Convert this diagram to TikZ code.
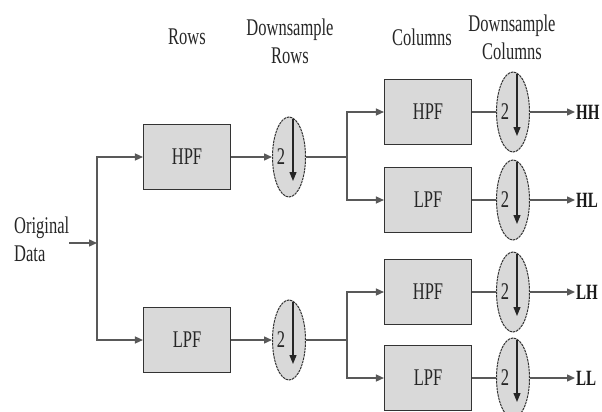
\documentclass[tikz,border=0pt]{standalone}
\usepackage{fontspec}
\setmainfont{Liberation Serif}
\usepackage{graphicx}
\usetikzlibrary{arrows.meta, shapes.geometric, positioning}

% tall lettering, as in the reference
\newcommand{\tall}[1]{\scalebox{1}[1.45]{#1}}

\begin{document}
\begin{tikzpicture}[x=1pt, y=-1pt,
    line/.style={draw=black!65, line width=1.4pt},
    arr/.style={line, -{Triangle[length=8pt, width=7pt]}},
    txt/.style={font=\fontsize{16.5}{19.5}\selectfont, text=black!85, yscale=1.45, align=center, inner sep=0pt},
    filt/.style={rectangle, draw=black!80, line width=1.1pt, fill=black!15, minimum width=87pt, minimum height=65pt,
                 font=\fontsize{16.5}{19.5}\selectfont, text=black!85},
    ds/.style={ellipse, draw=black!80, line width=1pt, dash pattern=on 2.5pt off 0.8pt, fill=black!15,
               minimum width=33pt, minimum height=80pt, inner sep=0pt},
    outlbl/.style={font=\fontsize{15}{18}\selectfont\bfseries, text=black!90, yscale=1.45, anchor=west, inner sep=1pt}]

    \useasboundingbox (0,0) rectangle (602,412);

    % --- column titles ---
    \node[txt] (tRows) at (187,37) {Rows};
    \node[txt] (tDsRows) at (290,41) {Downsample\\Rows};
    \node[txt] (tCols) at (422,37) {Columns};
    \node[txt] (tDsCols) at (512,37) {Downsample\\Columns};

    % --- input ---
    \node[txt, align=left, anchor=west] (orig) at (14,239) {Original\\Data};
    \coordinate (inStart) at (69,243);
    \coordinate (splitA) at (97,243);
    \draw[arr] (inStart) -- (splitA);

    % --- first stage: rows ---
    \node[filt] (hpfA) at (187,157) {\tall{HPF}};
    \node[filt] (lpfA) at (187,340) {\tall{LPF}};
    \draw[arr] (splitA) |- (hpfA.west);
    \draw[arr] (splitA) |- (lpfA.west);

    % --- downsamplers (2 with down arrow) ---
    \foreach \nm/\px/\py in {dsH/289/157, dsL/289/340, dsHH/513/112, dsHL/513/200, dsLH/513/292, dsLL/513/378}{
        \node[ds] (\nm) at (\px,\py) {};
        \node[txt] (\nm-two) at ([xshift=-8pt]\nm.center) {2};
        \draw[black!85, line width=1.2pt, -{Triangle[length=9pt, width=7pt]}]
            ([xshift=4pt, yshift=-2pt]\nm.north) -- ([xshift=4pt, yshift=-24pt]\nm.center);
    }
    \draw[arr] (hpfA.east) -- (dsH.west);
    \draw[arr] (lpfA.east) -- (dsL.west);

    % --- second stage: columns ---
    \coordinate (splitH) at (347,157);
    \coordinate (splitL) at (347,340);
    \draw[line] (dsH.east) -- (splitH);
    \draw[line] (dsL.east) -- (splitL);

    \foreach \nm/\kind/\py/\src in {HH/HPF/112/splitH, HL/LPF/200/splitH, LH/HPF/292/splitL, LL/LPF/378/splitL}{
        \node[filt] (f\nm) at (428,\py) {\tall{\kind}};
        \draw[arr] (\src) |- (f\nm.west);
        \draw[line] (f\nm.east) -- (ds\nm.west);
        \coordinate (out\nm) at (575,\py);
        \draw[arr] (ds\nm.east) -- (out\nm);
        \node[outlbl] (lbl\nm) at (out\nm) {\nm};
    }

\end{tikzpicture}
\end{document}
